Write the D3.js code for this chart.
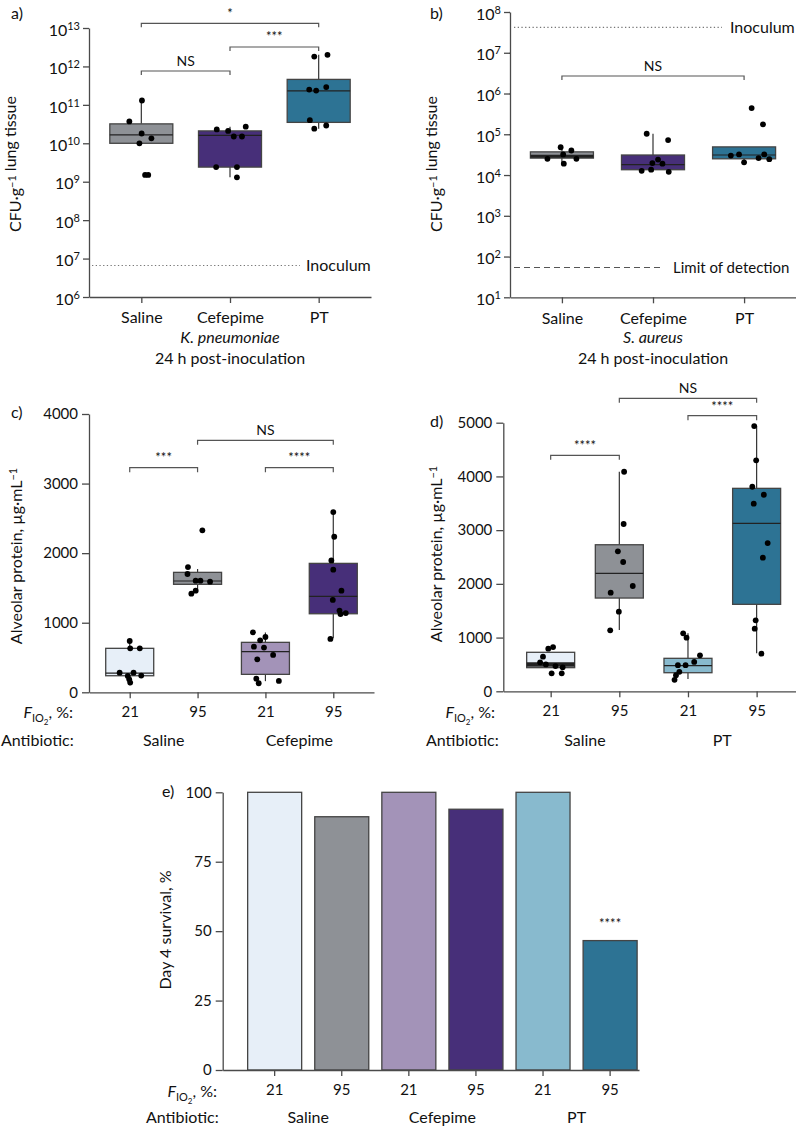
<!DOCTYPE html>
<html><head><meta charset="utf-8">
<script src="https://cdn.jsdelivr.net/npm/d3@7"></script>
<style>
body{margin:0;background:#fff}
text{font-family:Lato, "Noto Sans", sans-serif; fill:#111}
</style>
</head><body>
<svg id="chart" width="796" height="1129" xmlns="http://www.w3.org/2000/svg"></svg>
<script>
// ---------- Panel a: K. pneumoniae CFU ----------
const aCategories = ["Saline", "Cefepime", "PT"];
const aQ1 = [1.0e10, 2.4e9, 3.5e10];
const aMedian = [1.65e10, 1.6e10, 2.3e11];
const aQ3 = [3.2e10, 2.1e10, 4.6e11];
const aWhiskerLow = [1.0e10, 1.3e9, 2.4e10];
const aWhiskerHigh = [1.3e11, 2.7e10, 2.0e12];
const aPoints = [
  [1.3e11, 3.7e10, 1.8e10, 1.0e10, 1.35e10, 1.5e9, 1.5e9],
  [2.3e10, 2.1e10, 1.5e10, 1.5e10, 2.7e10, 2.4e9, 2.4e9, 1.3e9],
  [1.8e12, 2.0e12, 2.5e11, 2.35e11, 2.9e11, 4.0e10, 2.4e10, 2.9e10]
];
const aJitter = [
  [0.01, -0.19, 0.005, -0.03, 0.16, 0.06, 0.11],
  [-0.21, -0.03, 0.06, 0.19, 0.25, -0.22, 0.11, 0.11],
  [-0.07, 0.14, -0.15, -0.04, 0.12, -0.14, -0.07, 0.12]
];
const aInoculum = 6.6e6;
const aComparisons = [["Saline", "PT", "*"], ["Cefepime", "PT", "***"], ["Saline", "Cefepime", "NS"]];

// ---------- Panel b: S. aureus CFU ----------
const bCategories = ["Saline", "Cefepime", "PT"];
const bQ1 = [2.6e4, 1.35e4, 2.5e4];
const bMedian = [2.9e4, 1.8e4, 3.1e4];
const bQ3 = [3.7e4, 3.1e4, 4.9e4];
const bWhiskerLow = [1.9e4, 1.2e4, 2.05e4];
const bWhiskerHigh = [4.8e4, 1.03e5, 4.9e4];
const bPoints = [
  [4.8e4, 4.0e4, 2.5e4, 3.2e4, 1.9e4, 2.5e4],
  [1.03e5, 7.2e4, 1.96e4, 2.4e4, 1.9e4, 1.27e4, 1.35e4, 1.2e4],
  [4.4e5, 1.75e5, 3.0e4, 3.2e4, 2.05e4, 2.6e4, 3.2e4, 2.45e4]
];
const bJitter = [
  [-0.02, 0.15, -0.23, 0.02, 0.03, 0.23],
  [-0.1, 0.24, -0.01, 0.08, 0.15, -0.18, -0.03, 0.25],
  [0.12, 0.3, -0.21, -0.08, 0.0, 0.23, 0.32, 0.4]
];
const bInoculum = 4.2e7;
const bLimitOfDetection = 54;
const bComparisons = [["Saline", "PT", "NS"]];

// ---------- Panel c: alveolar protein, Saline / Cefepime ----------
const cGroups = ["Saline 21", "Saline 95", "Cefepime 21", "Cefepime 95"];
const cFio2 = ["21", "95", "21", "95"];
const cAntibiotics = ["Saline", "Cefepime"];
const cQ1 = [238, 1552, 258, 1129];
const cMedian = [277, 1600, 585, 1379];
const cQ3 = [632, 1724, 718, 1853];
const cWhiskerLow = [100, 1437, 160, 776];
const cWhiskerHigh = [751, 1772, 860, 2590];
const cPoints = [
  [737, 632, 632, 282, 282, 235, 240, 187, 140],
  [1800, 1700, 1605, 1605, 1590, 1460, 1418, 2328],
  [862, 795, 747, 656, 643, 537, 474, 196, 130, 163],
  [2590, 2236, 1896, 1762, 1460, 1327, 1174, 1125, 1139, 767]
];
const cJitter = [
  [0, 0.01, 0.21, -0.21, 0.08, -0.04, 0.24, -0.01, 0.01],
  [-0.2, -0.21, -0.04, 0.06, 0.26, -0.04, -0.13, 0.1],
  [-0.26, 0, -0.11, -0.24, -0.03, 0.16, -0.17, -0.19, -0.14, 0.28],
  [0, 0.02, -0.04, 0, 0.17, -0.01, 0.13, 0.15, 0.26, -0.06]
];
const cComparisons = [["Saline 21", "Saline 95", "***"], ["Cefepime 21", "Cefepime 95", "****"], ["Saline 95", "Cefepime 95", "NS"]];

// ---------- Panel d: alveolar protein, Saline / PT ----------
const dGroups = ["Saline 21", "Saline 95", "PT 21", "PT 95"];
const dFio2 = ["21", "95", "21", "95"];
const dAntibiotics = ["Saline", "PT"];
const dQ1 = [440, 1736, 346, 1619];
const dMedian = [500, 2196, 478, 3127];
const dQ3 = [726, 2728, 614, 3778];
const dWhiskerLow = [440, 1141, 231, 707];
const dWhiskerHigh = [726, 4087, 1079, 4937];
const dPoints = [
  [793, 823, 644, 540, 335, 335, 447, 500, 470],
  [4087, 3114, 2606, 2407, 1960, 1836, 1482, 1135],
  [1079, 999, 670, 546, 486, 486, 362, 300, 213],
  [4937, 4299, 3808, 3659, 3492, 2760, 2487, 1321, 1166, 700]
];
const dJitter = [
  [-0.05, 0.05, -0.16, -0.22, 0.02, 0.23, 0.25, -0.1, 0.1],
  [0.1, 0.09, -0.03, 0.08, 0.28, -0.18, -0.01, -0.19],
  [-0.1, -0.03, 0.25, 0.13, -0.21, -0.05, -0.18, -0.25, -0.28],
  [-0.05, -0.01, -0.09, 0.15, -0.06, 0.23, 0.13, -0.02, -0.04, 0.1]
];
const dComparisons = [["Saline 21", "Saline 95", "****"], ["PT 21", "PT 95", "****"], ["Saline 95", "PT 95", "NS"]];

// ---------- Panel e: day 4 survival ----------
const eGroups = ["Saline 21", "Saline 95", "Cefepime 21", "Cefepime 95", "PT 21", "PT 95"];
const eFio2 = ["21", "95", "21", "95", "21", "95"];
const eAntibiotics = ["Saline", "Cefepime", "PT"];
const eSurvival = [100, 91.2, 100, 93.9, 100, 46.6];
const eSignificance = ["", "", "", "", "", "****"];
const eTicks = [0, 25, 50, 75, 100];

// ---------- styles ----------
const colorOf = {
  "Saline 21": "#e7eff8", "Saline 95": "#8e9196",
  "Cefepime 21": "#a393b8", "Cefepime 95": "#472f79",
  "PT 21": "#88bace", "PT 95": "#2d7394",
  "Saline": "#8e9196", "Cefepime": "#472f79", "PT": "#2d7394"
};
const AXIS = "#4a4a4a";
const svg = d3.select("#chart");

function styleAxis(g, fs) {
  g.attr("font-family", "Lato, 'Noto Sans', sans-serif").attr("font-size", fs);
  g.select(".domain").attr("stroke", AXIS).attr("stroke-width", 1.3);
  g.selectAll(".tick line").attr("stroke", AXIS).attr("stroke-width", 1.3);
  g.selectAll(".tick text").attr("fill", "#111");
}

function logTickLabels(g) {
  g.selectAll(".tick text").each(function(d) {
    const t = d3.select(this);
    t.text(null);
    t.append("tspan").text("10");
    t.append("tspan").attr("dy", "-0.55em").attr("font-size", 11).text(Math.round(Math.log10(d)));
  });
}

function yLabel(x, y, parts) {
  const t = svg.append("text").attr("transform", `translate(${x},${y}) rotate(-90)`)
    .attr("text-anchor", "middle").attr("dy", "0.35em").attr("font-size", 16);
  parts.forEach(p => {
    if (p.sup) {
      t.append("tspan").attr("dy", "-0.45em").attr("font-size", 11).text(p.text);
      t.append("tspan").attr("dy", "0.45em").text("");
    } else t.append("tspan").text(p.text);
  });
  return t;
}

function panelLetter(x, y, s) {
  svg.append("text").attr("x", x).attr("y", y).attr("font-size", 16).text(s);
}

function boxes(g, x, y, keys, q1, med, q3, wl, wh, pts, jit, boxW, colorKey, medWidths) {
  keys.forEach((k, i) => {
    const cx = x(k);
    g.append("line").attr("x1", cx).attr("x2", cx).attr("y1", y(wl[i])).attr("y2", y(q1[i]))
      .attr("stroke", "#333").attr("stroke-width", 1.2);
    g.append("line").attr("x1", cx).attr("x2", cx).attr("y1", y(q3[i])).attr("y2", y(wh[i]))
      .attr("stroke", "#333").attr("stroke-width", 1.2);
    g.append("rect").attr("x", cx - boxW / 2).attr("width", boxW)
      .attr("y", y(q3[i])).attr("height", y(q1[i]) - y(q3[i]))
      .attr("fill", colorOf[colorKey(k)]).attr("stroke", "#444").attr("stroke-width", 1.3);
    g.append("line").attr("x1", cx - boxW / 2).attr("x2", cx + boxW / 2)
      .attr("y1", y(med[i])).attr("y2", y(med[i]))
      .attr("stroke", "#222").attr("stroke-width", medWidths ? medWidths[i] : 1.2);
    g.selectAll(null).data(pts[i]).join("circle")
      .attr("cx", (d, j) => cx + jit[i][j] * boxW)
      .attr("cy", d => y(d)).attr("r", 2.9).attr("fill", "#000");
  });
}

function brackets(g, x, comps, ys, drop, labelYs) {
  comps.forEach((c, i) => {
    const x1 = x(c[0]), x2 = x(c[1]), yy = ys[i];
    g.append("path").attr("d", `M${x1},${yy + drop}V${yy}H${x2}V${yy + drop}`)
      .attr("fill", "none").attr("stroke", "#555").attr("stroke-width", 1.2);
    g.append("text").attr("x", (x1 + x2) / 2).attr("y", labelYs[i]).attr("text-anchor", "middle")
      .attr("font-size", c[2] === "NS" ? 14 : 13).attr("fill", "#333").text(c[2]);
  });
}

function fio2Label(x, y, anchor) {
  const t = svg.append("text").attr("x", x).attr("y", y).attr("text-anchor", anchor).attr("font-size", 16);
  t.append("tspan").attr("font-style", "italic").text("F");
  t.append("tspan").attr("dy", 4).attr("font-size", 11).text("IO");
  t.append("tspan").attr("dy", 3).attr("font-size", 8).text("2");
  t.append("tspan").attr("dy", -7).text(", %:");
}

// ================= Panel a =================
{
  const x = d3.scalePoint().domain(aCategories).range([89, 371]).padding(0.59);
  const y = d3.scaleLog().domain([1e6, 1e13]).range([297, 28]);
  const gy = svg.append("g").attr("transform", "translate(89,0)")
    .call(d3.axisLeft(y).tickValues(d3.range(6, 14).map(p => Math.pow(10, p))).tickSize(6).tickPadding(3).tickSizeOuter(0));
  styleAxis(gy, 16); logTickLabels(gy);
  gy.selectAll(".tick text").attr("dy", "0.45em");
  const gx = svg.append("g").attr("transform", "translate(0,297)")
    .call(d3.axisBottom(x).tickSize(6).tickPadding(9).tickSizeOuter(0));
  styleAxis(gx, 16);
  const g = svg.append("g");
  g.append("line").attr("x1", 92).attr("x2", 300).attr("y1", y(aInoculum)).attr("y2", y(aInoculum))
    .attr("stroke", "#777").attr("stroke-width", 1.1).attr("stroke-dasharray", "1.3,2.4");
  g.append("text").attr("x", 306).attr("y", y(aInoculum)).attr("dy", "0.36em").attr("font-size", 16).text("Inoculum");
  boxes(g, x, y, aCategories, aQ1, aMedian, aQ3, aWhiskerLow, aWhiskerHigh, aPoints, aJitter, 63, k => k);
  brackets(g, x, aComparisons, [23.3, 47, 71], 4, [18, 41, 66]);
  svg.append("text").attr("x", x("Cefepime")).attr("y", 343).attr("text-anchor", "middle")
    .attr("font-size", 16).attr("font-style", "italic").text("K. pneumoniae");
  svg.append("text").attr("x", x("Cefepime")).attr("y", 364).attr("text-anchor", "middle")
    .attr("font-size", 16).text("24 h post-inoculation");
  yLabel(15, 164, [{text: "CFU·g"}, {text: "−1", sup: true}, {text: " lung tissue"}]);
  panelLetter(11, 19, "a)");
}

// ================= Panel b =================
{
  const x = d3.scalePoint().domain(bCategories).range([510, 796]).padding(0.57);
  const y = d3.scaleLog().domain([10, 1e8]).range([297.3, 12]);
  const gy = svg.append("g").attr("transform", "translate(510,0)")
    .call(d3.axisLeft(y).tickValues(d3.range(1, 9).map(p => Math.pow(10, p))).tickSize(6).tickPadding(3).tickSizeOuter(0));
  styleAxis(gy, 16); logTickLabels(gy);
  gy.selectAll(".tick text").attr("dy", "0.45em");
  const gx = svg.append("g").attr("transform", "translate(0,297.3)")
    .call(d3.axisBottom(x).tickSize(6).tickPadding(9).tickSizeOuter(0));
  styleAxis(gx, 16);
  const g = svg.append("g");
  g.append("line").attr("x1", 514).attr("x2", 722).attr("y1", y(bInoculum)).attr("y2", y(bInoculum))
    .attr("stroke", "#777").attr("stroke-width", 1.1).attr("stroke-dasharray", "1.3,2.4");
  g.append("text").attr("x", 730).attr("y", y(bInoculum)).attr("dy", "0.36em").attr("font-size", 16).text("Inoculum");
  g.append("line").attr("x1", 514).attr("x2", 664).attr("y1", y(bLimitOfDetection)).attr("y2", y(bLimitOfDetection))
    .attr("stroke", "#555").attr("stroke-width", 1.1).attr("stroke-dasharray", "6,4");
  g.append("text").attr("x", 673).attr("y", y(bLimitOfDetection)).attr("dy", "0.36em").attr("font-size", 15).text("Limit of detection");
  boxes(g, x, y, bCategories, bQ1, bMedian, bQ3, bWhiskerLow, bWhiskerHigh, bPoints, bJitter, 63, k => k, [3, 1.2, 1.2]);
  brackets(g, x, bComparisons, [76], 4, [71]);
  svg.append("text").attr("x", x("Cefepime")).attr("y", 343).attr("text-anchor", "middle")
    .attr("font-size", 16).attr("font-style", "italic").text("S. aureus");
  svg.append("text").attr("x", x("Cefepime")).attr("y", 364).attr("text-anchor", "middle")
    .attr("font-size", 16).text("24 h post-inoculation");
  yLabel(436, 164, [{text: "CFU·g"}, {text: "−1", sup: true}, {text: " lung tissue"}]);
  panelLetter(430, 19, "b)");
}

// ================= Panel c =================
{
  const x = d3.scalePoint().domain(cGroups).range([89, 374]).padding(0.6);
  const y = d3.scaleLinear().domain([0, 4000]).range([692.3, 414]);
  const gy = svg.append("g").attr("transform", "translate(89,0)")
    .call(d3.axisLeft(y).tickValues([0, 1000, 2000, 3000, 4000]).tickFormat(d3.format("d")).tickSize(7).tickPadding(4).tickSizeOuter(0));
  styleAxis(gy, 15);
  const gx = svg.append("g").attr("transform", "translate(0,692.3)")
    .call(d3.axisBottom(x).tickFormat((d, i) => cFio2[i]).tickSize(6).tickPadding(8).tickSizeOuter(0));
  styleAxis(gx, 15);
  const g = svg.append("g");
  boxes(g, x, y, cGroups, cQ1, cMedian, cQ3, cWhiskerLow, cWhiskerHigh, cPoints, cJitter, 48, k => k);
  brackets(g, x, cComparisons, [467.7, 467.7, 440.3], 4.5, [462, 462, 435]);
  fio2Label(73, 718, "end");
  svg.append("text").attr("x", 1).attr("y", 745.7).attr("font-size", 16).text("Antibiotic:");
  cAntibiotics.forEach((a, i) => {
    svg.append("text").attr("x", (x(cGroups[2 * i]) + x(cGroups[2 * i + 1])) / 2).attr("y", 745.7)
      .attr("text-anchor", "middle").attr("font-size", 16).text(a);
  });
  yLabel(16, 556, [{text: "Alveolar protein, µg·mL"}, {text: "−1", sup: true}]);
  panelLetter(11, 418, "c)");
}

// ================= Panel d =================
{
  const x = d3.scalePoint().domain(dGroups).range([503.3, 804]).padding(0.69);
  const y = d3.scaleLinear().domain([0, 5000]).range([691.3, 422.7]);
  const gy = svg.append("g").attr("transform", "translate(503.3,0)")
    .call(d3.axisLeft(y).tickValues([0, 1000, 2000, 3000, 4000, 5000]).tickFormat(d3.format("d")).tickSize(7).tickPadding(4).tickSizeOuter(0));
  styleAxis(gy, 15);
  const gx = svg.append("g").attr("transform", "translate(0,691.3)")
    .call(d3.axisBottom(x).tickFormat((d, i) => dFio2[i]).tickSize(6).tickPadding(8).tickSizeOuter(0));
  styleAxis(gx, 15);
  const g = svg.append("g");
  boxes(g, x, y, dGroups, dQ1, dMedian, dQ3, dWhiskerLow, dWhiskerHigh, dPoints, dJitter, 48, k => k, [4.5, 1.2, 1.2, 1.2]);
  brackets(g, x, dComparisons, [455.3, 415.7, 398.3], 4.5, [450, 410.5, 393]);
  fio2Label(495, 718, "end");
  svg.append("text").attr("x", 426).attr("y", 745.7).attr("font-size", 16).text("Antibiotic:");
  dAntibiotics.forEach((a, i) => {
    svg.append("text").attr("x", (x(dGroups[2 * i]) + x(dGroups[2 * i + 1])) / 2).attr("y", 745.7)
      .attr("text-anchor", "middle").attr("font-size", 16).text(a);
  });
  yLabel(436, 554, [{text: "Alveolar protein, µg·mL"}, {text: "−1", sup: true}]);
  panelLetter(430, 427, "d)");
}

// ================= Panel e =================
{
  const x = d3.scaleBand().domain(eGroups).range([222.7, 639]).paddingInner(0.195).paddingOuter(0.2).align(0.93);
  const y = d3.scaleLinear().domain([0, 100]).range([1070, 792.3]);
  const g = svg.append("g");
  g.selectAll("rect").data(eSurvival).join("rect")
    .attr("x", (d, i) => x(eGroups[i])).attr("width", x.bandwidth())
    .attr("y", d => y(d)).attr("height", d => y(0) - y(d))
    .attr("fill", (d, i) => colorOf[eGroups[i]]).attr("stroke", "#444").attr("stroke-width", 1.3);
  g.selectAll("text.sig").data(eSignificance).join("text").attr("class", "sig")
    .attr("x", (d, i) => x(eGroups[i]) + x.bandwidth() / 2).attr("y", (d, i) => y(eSurvival[i]) - 13)
    .attr("text-anchor", "middle").attr("font-size", 13).attr("fill", "#333").text(d => d);
  const gy = svg.append("g").attr("transform", "translate(222.7,0)")
    .call(d3.axisLeft(y).tickValues(eTicks).tickSize(7).tickPadding(4).tickSizeOuter(0));
  styleAxis(gy, 15);
  const gx = svg.append("g").attr("transform", "translate(0,1070)")
    .call(d3.axisBottom(x).tickFormat((d, i) => eFio2[i]).tickSize(6).tickPadding(8).tickSizeOuter(0));
  styleAxis(gx, 15);
  fio2Label(217, 1096.7, "end");
  svg.append("text").attr("x", 146).attr("y", 1123).attr("font-size", 16).text("Antibiotic:");
  eAntibiotics.forEach((a, i) => {
    svg.append("text").attr("x", (x(eGroups[2 * i]) + x(eGroups[2 * i + 1]) + x.bandwidth()) / 2).attr("y", 1123)
      .attr("text-anchor", "middle").attr("font-size", 16).text(a);
  });
  yLabel(165, 930, [{text: "Day 4 survival, %"}]);
  panelLetter(162, 797, "e)");
}
</script>
</body></html>
